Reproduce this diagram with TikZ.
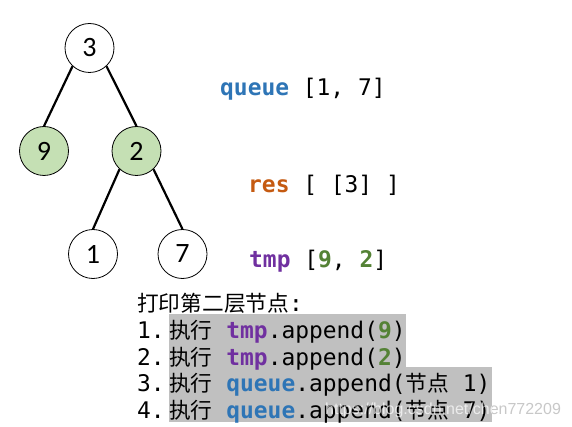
\documentclass[tikz,border=0pt]{standalone}
\usepackage{fontspec}
\setmainfont{Carlito}
\newfontfamily\mono{DejaVu Sans Mono}
\newfontfamily\cjkf{Noto Sans CJK SC}
\newfontfamily\wmf{Liberation Sans}
\definecolor{qblue}{HTML}{2E75B6}
\definecolor{tpurple}{HTML}{7030A0}
\definecolor{rorange}{HTML}{C55A11}
\definecolor{dgreen}{HTML}{548235}
\definecolor{lgreen}{HTML}{C5E0B4}
\definecolor{hlgray}{HTML}{C0C0C0}
\definecolor{wmgray}{HTML}{C8C8C8}
\newcommand{\cj}[1]{{\fontsize{21.7}{26.8}\cjkf #1}}
\newcommand{\kq}{{\bfseries\color{qblue}queue}}
\newcommand{\kt}{{\bfseries\color{tpurple}tmp}}
\newcommand{\kr}{{\bfseries\color{rorange}res}}
\newcommand{\kg}[1]{{\bfseries\color{dgreen}#1}}
\begin{document}
\begin{tikzpicture}[x=1pt,y=-1pt,
  tnode/.style={circle,draw=black,line width=0.8pt,minimum size=49pt,inner sep=0pt,
    font=\fontsize{28}{28}\selectfont},
  hot/.style={tnode,fill=lgreen},
  edge/.style={line width=2.2pt},
  code/.style={anchor=base west,inner sep=0pt,font=\fontsize{22.9}{26.8}\mono},
  wmark/.style={anchor=base west,inner sep=0pt,font=\fontsize{16}{16}\wmf}]
\useasboundingbox (0,0) rectangle (572,427);
% tree
\node[tnode] (n3) at (89.5,48) {3};
\node[hot] (n9) at (44,151) {9};
\node[hot] (n2) at (136.5,151) {2};
\node[tnode] (n1) at (93,254) {1};
\node[tnode] (n7) at (182.5,254) {7};
\draw[edge] (n3.227) -- (n9.north);
\draw[edge] (n3.313) -- (n2.north);
\draw[edge] (n2.227) -- (n1.north);
\draw[edge] (n2.313) -- (n7.north);
% state
\node[code] (q) at (220,96) {\kq{} [1, 7]};
\node[code] (r) at (248,193) {\kr{} [ [3] ]};
\node[code] (t) at (249,268) {\kt{} [\kg{9}, \kg{2}]};
% highlight
\fill[hlgray] (169,314.3) rectangle (406,367);
\fill[hlgray] (169,367) rectangle (492,421.7);
% steps
\node[code] (l0) at (137,311.5) {\cj{打印第二层节点}:};
\node[code] (d1) at (137,338.3) {1.};
\node[code] (l1) at (169,338.3) {\cj{执行} \kt.append(\kg{9})};
\node[code] (d2) at (137,365.1) {2.};
\node[code] (l2) at (169,365.1) {\cj{执行} \kt.append(\kg{2})};
\node[code] (d3) at (137,391.9) {3.};
\node[code] (l3) at (169,391.9) {\cj{执行} \kq.append(\cj{节点} 1)};
\node[code] (d4) at (137,418.7) {4.};
\node[code] (l4) at (169,418.7) {\cj{执行} \kq.append(\cj{节点} 7)};
% watermark: light on the grey band, grey on the white
\begin{scope}
\clip (169,367) rectangle (492,421.7);
\node[wmark,text=white,text opacity=0.7] (wm) at (325,414) {https://blog.csdn.net/chen772209};
\end{scope}
\begin{scope}
\clip (492,360) rectangle (572,427);
\node[wmark,text=wmgray] (wm2) at (325,414) {https://blog.csdn.net/chen772209};
\end{scope}
\end{tikzpicture}
\end{document}
